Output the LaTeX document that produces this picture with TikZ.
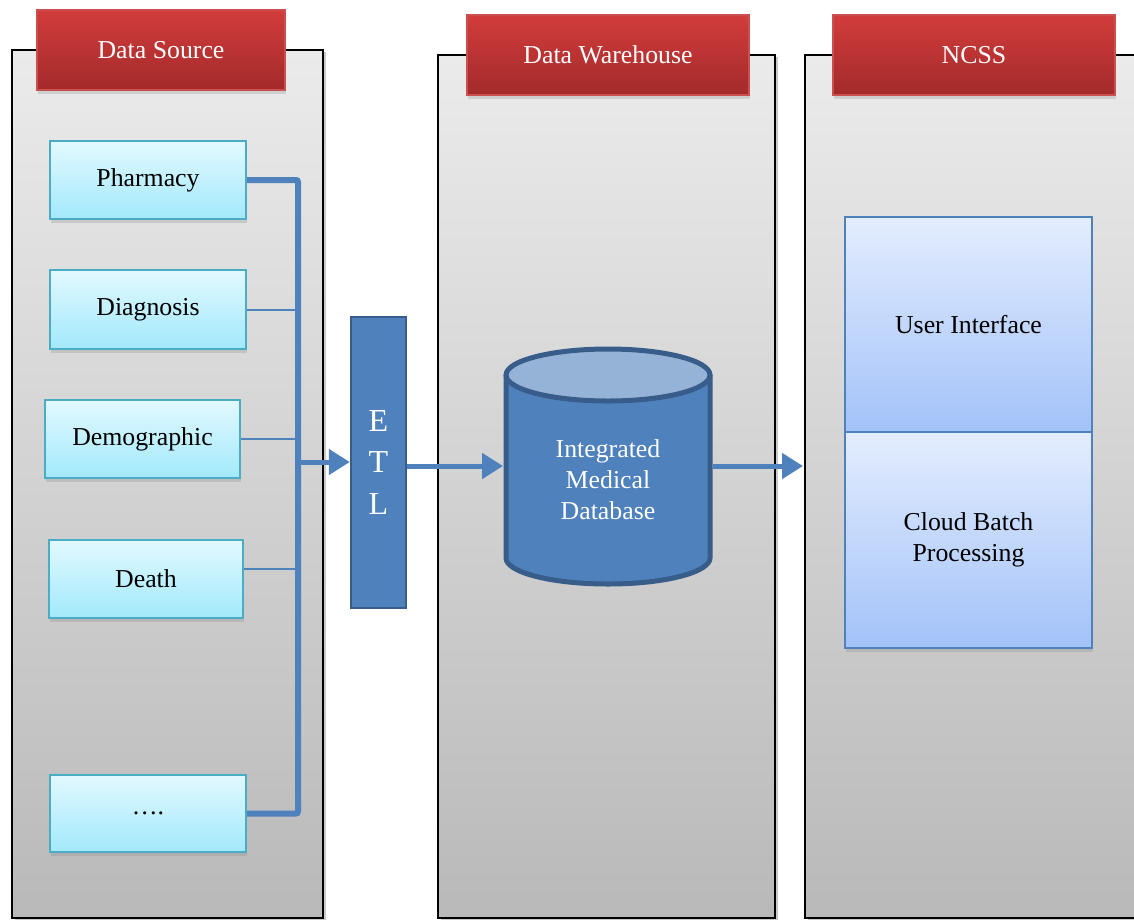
\documentclass[tikz,border=0pt]{standalone}
\usepackage{fontspec}
\setmainfont{Liberation Serif}
\usetikzlibrary{arrows.meta,shadows,calc}
\definecolor{panelTop}{HTML}{EBEBEB}
\definecolor{panelBot}{HTML}{B9B9B9}
\definecolor{hdrTop}{HTML}{D23C3C}
\definecolor{hdrBot}{HTML}{A32A2A}
\definecolor{hdrLine}{HTML}{C9504F}
\definecolor{srcTop}{HTML}{E2F9FF}
\definecolor{srcBot}{HTML}{A2E9FB}
\definecolor{srcLine}{HTML}{4BACC6}
\definecolor{blueMain}{HTML}{4F81BD}
\definecolor{blueDark}{HTML}{385D8A}
\definecolor{blueLight}{HTML}{95B3D7}
\definecolor{ncTop}{HTML}{E3EDFE}
\definecolor{ncBot}{HTML}{A3C2F9}
\tikzset{
  x=1pt, y=-1pt,
  basefont/.style={font=\fontsize{25.8}{31}\selectfont},
  panel/.style={draw=black, line width=1.6pt, top color=panelTop, bottom color=panelBot,
     drop shadow={shadow xshift=3pt, shadow yshift=-2pt, opacity=.35, fill=black!60}},
  header/.style={basefont, text=white, draw=hdrLine, line width=1.2pt,
     top color=hdrTop, bottom color=hdrBot, minimum width=248pt, minimum height=80pt,
     drop shadow={shadow xshift=1pt, shadow yshift=-4pt, opacity=.25}},
  srcbox/.style={basefont, draw=srcLine, line width=2pt, top color=srcTop, bottom color=srcBot,
     minimum width=196pt, minimum height=78pt,
     drop shadow={shadow xshift=1pt, shadow yshift=-4pt, opacity=.25}},
  etlbox/.style={draw=blueDark, line width=2.5pt, fill=blueMain, text=white,
     minimum width=55pt, minimum height=291pt, align=center,
     font=\fontsize{32}{41.5}\selectfont},
  ncbox/.style={basefont, draw=blueMain, line width=2pt, top color=ncTop, bottom color=ncBot,
     minimum width=247pt, align=center},
  bus/.style={draw=blueMain, line width=6pt, rounded corners=2pt},
  tap/.style={draw=blueMain, line width=2pt},
  flow/.style={draw=blueMain, line width=5pt, -{Triangle[length=21pt,width=25pt]}},
}
\begin{document}
\begin{tikzpicture}
\useasboundingbox (0,0) rectangle (1134,919);
\clip (0,0) rectangle (1134,919);
% panels
\path[panel] (12,50) rectangle (323,918);
\path[panel] (438,55) rectangle (775,918);
\path[panel] (805,55) rectangle (1145,918);
% headers
\node[header] (h1) at (161,50) {Data Source};
\node[header, minimum width=282pt] (h2) at (608,55) {Data Warehouse};
\node[header, minimum width=282pt] (h3) at (974,55) {NCSS};
% sources
\node[srcbox] (ph) at (148,180) {Pharmacy};
\node[srcbox, minimum height=79pt] (dg) at (148,309.5) {Diagnosis};
\node[srcbox, minimum width=195pt] (dm) at (142.5,439) {Demographic};
\node[srcbox, minimum width=194pt] (de) at (146,578.5) {Death};
\node[srcbox, minimum height=77pt] (dt) at (148,813.5) {….};
% bus
\coordinate (busT) at (298,180);
\coordinate (busB) at (298,813.5);
\coordinate (busM) at (298,462);
\draw[bus] (ph.east) -- (busT) -- (busB) -- (dt.east);
\draw[tap] (dg.east) -- (dg.east -| busT);
\draw[tap] (dm.east) -- (dm.east -| busT);
\coordinate (deT) at ([yshift=10pt]de.east);
\draw[tap] (deT) -- (deT -| busT);
% ETL
\node[etlbox] (etl) at (378.5,462.5) {E\\T\\L};
\draw[flow] (busM) -- (etl.west |- busM);
% database cylinder
\node[minimum width=210pt, minimum height=236pt, inner sep=0pt] (db) at (608,467) {};
\fill[blueMain] (506,375) -- (506,558) arc[start angle=180, end angle=0, x radius=102, y radius=26] -- (710,375) -- cycle;
\fill[blueLight] (608,375) ellipse[x radius=102, y radius=26];
\draw[blueDark, line width=5pt] (608,375) ellipse[x radius=102, y radius=26];
\draw[blueDark, line width=5pt] (506,375) -- (506,558) arc[start angle=180, end angle=0, x radius=102, y radius=26] -- (710,375);
\node[basefont, text=white, align=center] (dbt) at (608,480) {Integrated\\Medical\\Database};
\coordinate (dbIn) at (503,466);
\coordinate (dbOut) at (713,466);
\coordinate (ncIn) at (803,466);
\draw[flow] (etl.east |- dbIn) -- (dbIn);
\draw[flow] (dbOut) -- (ncIn);
% NCSS
\node[ncbox, minimum height=216pt, drop shadow={shadow xshift=1pt, shadow yshift=-4pt, opacity=.25}] (ui) at (968.5,540) {};
\node[ncbox, minimum height=216pt] (cb) at (968.5,540) {Cloud Batch\\Processing};
\node[ncbox, minimum height=215pt] (uif) at (968.5,324.5) {User Interface};
\end{tikzpicture}
\end{document}
